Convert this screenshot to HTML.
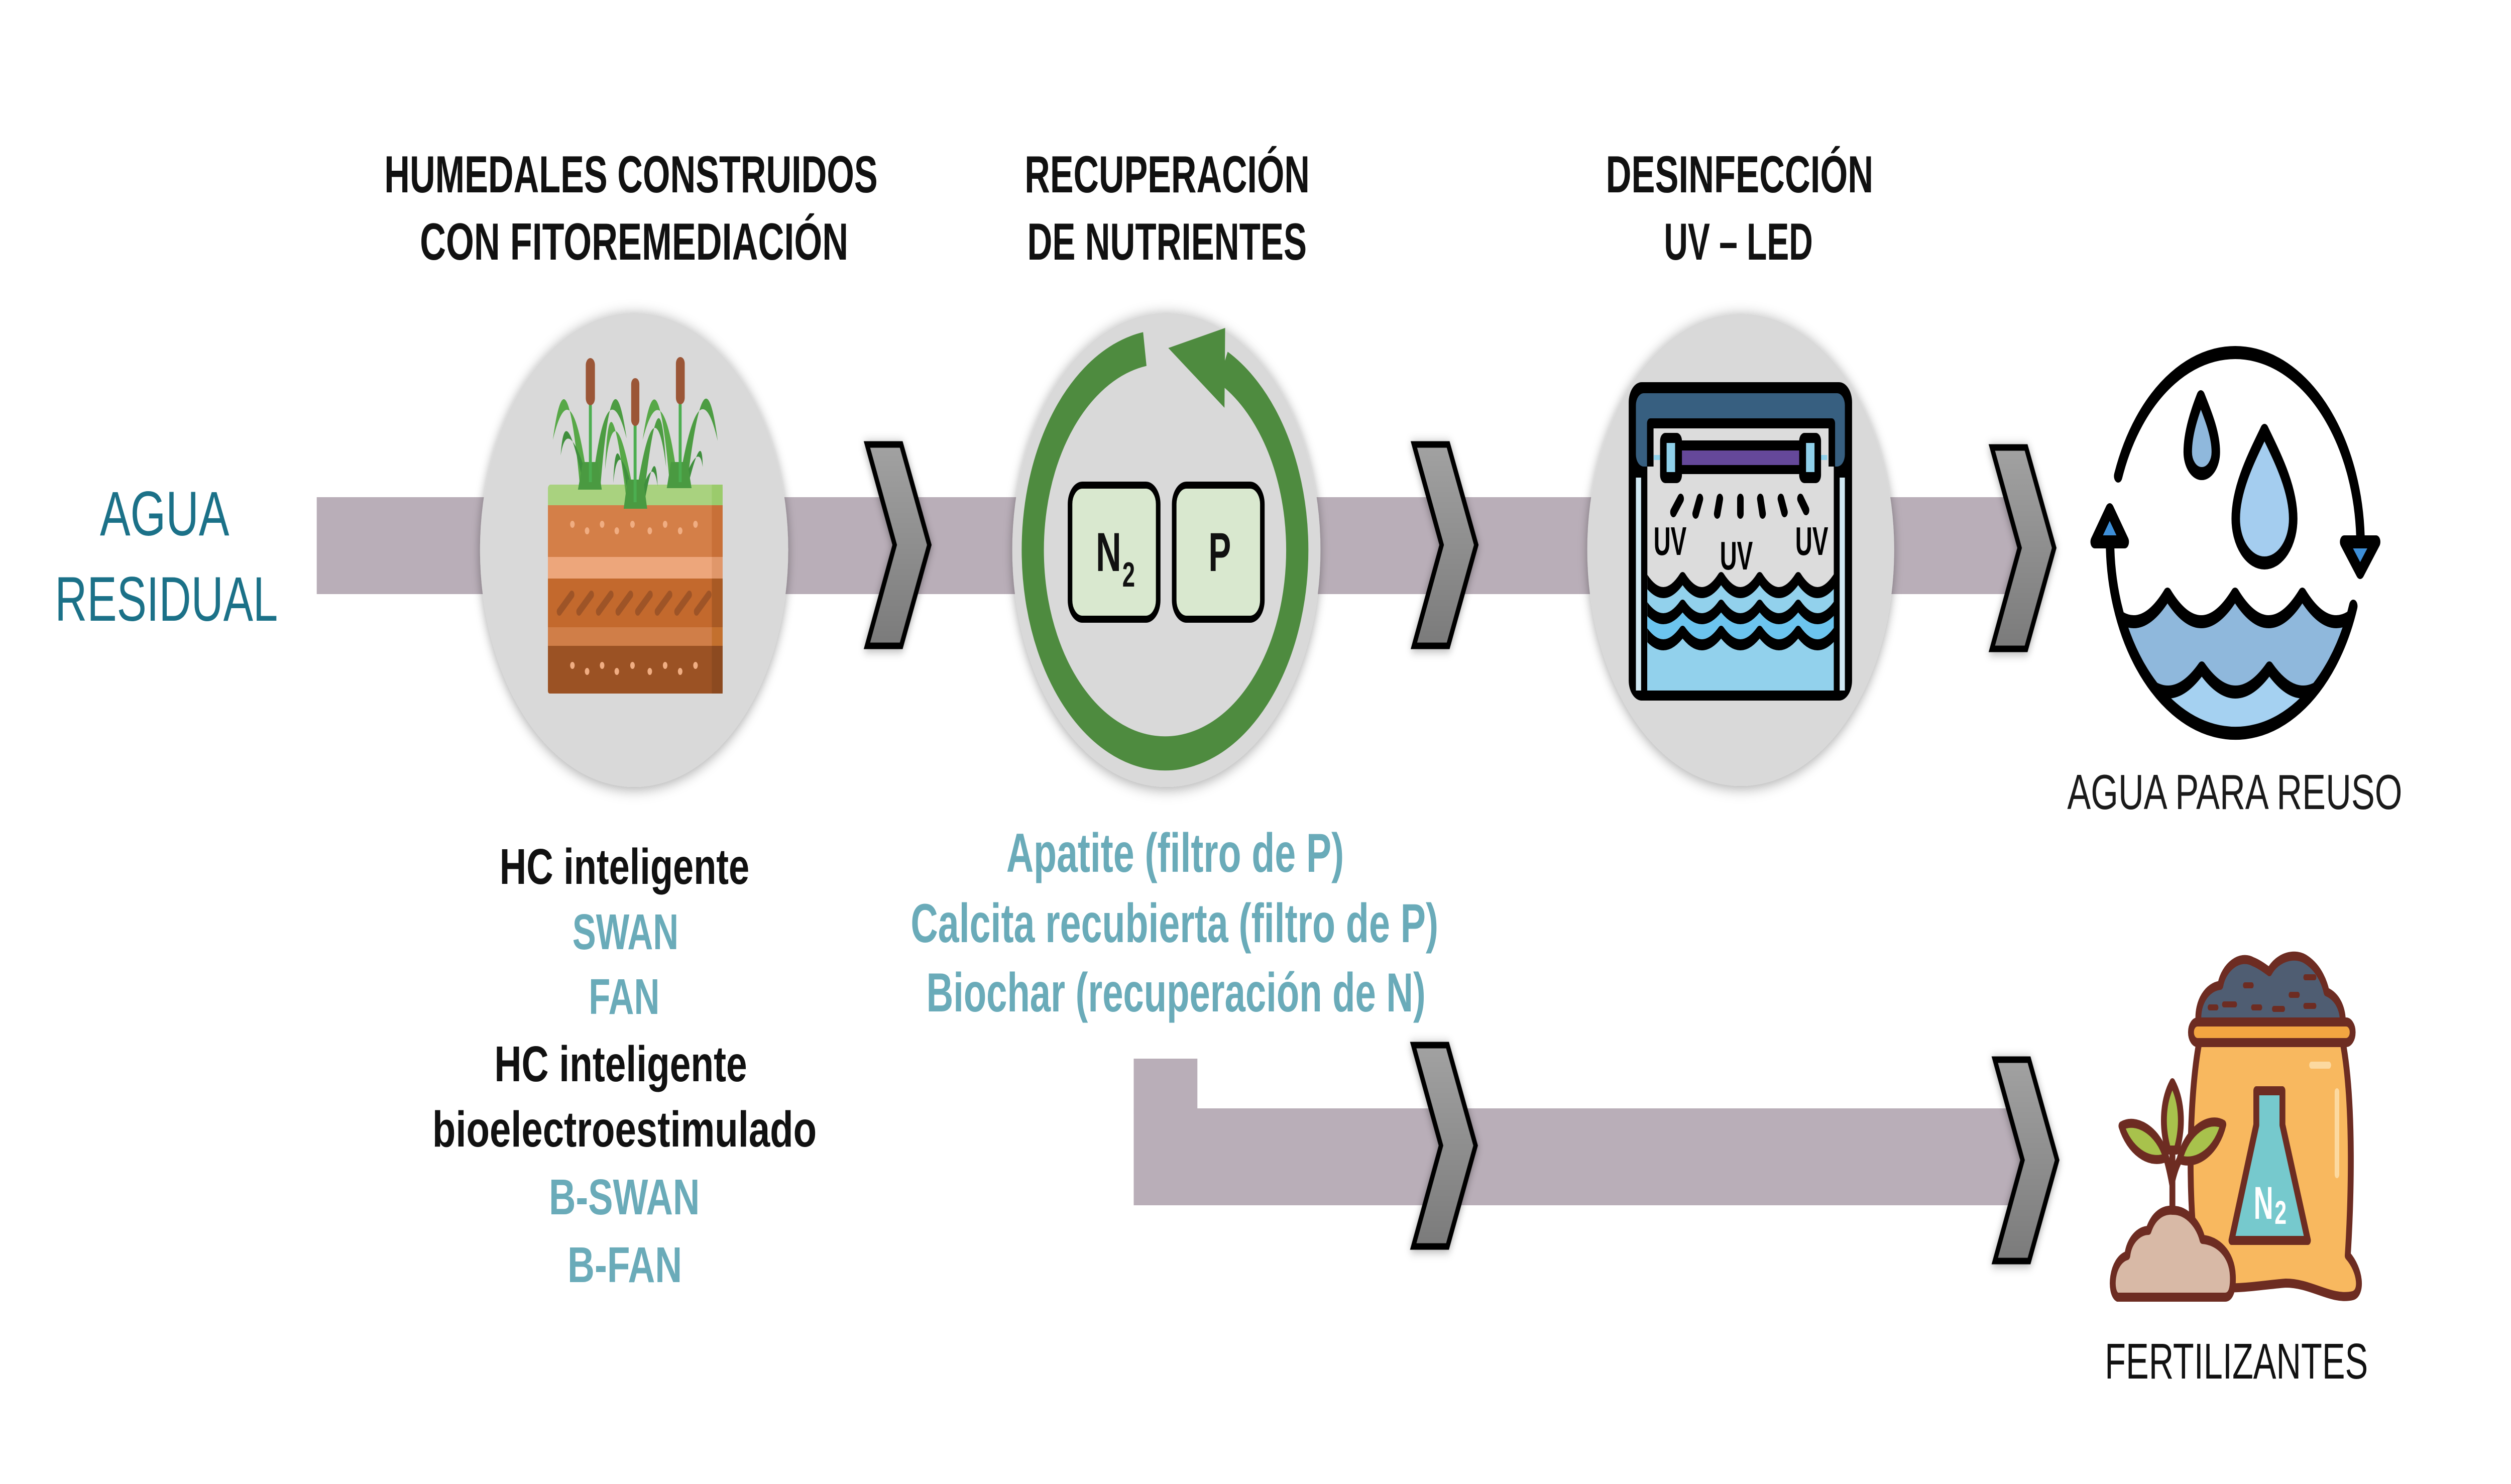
<!DOCTYPE html>
<html><head><meta charset="utf-8"><style>
html,body{margin:0;padding:0;background:#fff;width:100%;height:100%;overflow:hidden;}
svg{display:block;position:absolute;left:0;top:0;width:100%;height:100%;}
text{font-family:"Liberation Sans",sans-serif;}
</style></head><body>
<svg viewBox="0 0 7690 2955" preserveAspectRatio="none" xmlns="http://www.w3.org/2000/svg" overflow="hidden">
<defs>
<filter id="sh" x="-20%" y="-20%" width="140%" height="140%"><feDropShadow dx="0" dy="4" stdDeviation="14" flood-color="#000" flood-opacity="0.35"/></filter>
<filter id="shc" x="-30%" y="-20%" width="160%" height="140%"><feDropShadow dx="0" dy="3" stdDeviation="10" flood-color="#000" flood-opacity="0.35"/></filter>
<linearGradient id="cg" x1="0" y1="0" x2="0" y2="1"><stop offset="0" stop-color="#a2a2a2"/><stop offset="1" stop-color="#7b7b7b"/></linearGradient>
<clipPath id="uvclip"><rect x="5045" y="1090" width="571" height="285"/></clipPath>
<clipPath id="wclip"><circle cx="6846" cy="1076" r="384"/></clipPath>
</defs>
<rect width="7690" height="2955" fill="#fff"/>

<!-- Headings -->
<g font-weight="bold" font-size="104" fill="#111">
<text x="1177" y="383" textLength="1511" lengthAdjust="spacingAndGlyphs">HUMEDALES CONSTRUIDOS</text>
<text x="1286" y="517" textLength="1312" lengthAdjust="spacingAndGlyphs">CON FITOREMEDIACIÓN</text>
<text x="3138" y="383" textLength="873" lengthAdjust="spacingAndGlyphs">RECUPERACIÓN</text>
<text x="3146" y="517" textLength="856" lengthAdjust="spacingAndGlyphs">DE NUTRIENTES</text>
<text x="4918" y="383" textLength="819" lengthAdjust="spacingAndGlyphs">DESINFECCIÓN</text>
<text x="5096" y="517" textLength="456" lengthAdjust="spacingAndGlyphs">UV – LED</text>
</g>

<!-- AGUA RESIDUAL -->
<g font-size="125" fill="#1b7188">
<text x="306" y="1066" textLength="396" lengthAdjust="spacingAndGlyphs">AGUA</text>
<text x="168" y="1236" textLength="683" lengthAdjust="spacingAndGlyphs">RESIDUAL</text>
</g>

<!-- Bands -->
<rect x="970" y="990" width="5270" height="193" fill="#b9aeb8"/>
<rect x="3472" y="2108" width="195" height="110" fill="#b9aeb8"/>
<rect x="3472" y="2207" width="2730" height="193" fill="#b9aeb8"/>

<!-- Circles -->
<g fill="#d9d9d9" filter="url(#sh)">
<circle cx="1942" cy="1095" r="472"/>
<circle cx="3572" cy="1095" r="472"/>
<circle cx="5331" cy="1095" r="470"/>
</g>

<!-- Chevrons -->
<g fill="url(#cg)" stroke="#000" stroke-width="13" stroke-linejoin="miter" filter="url(#shc)">
<polygon transform="translate(2649,879)" points="6,6 111,6 197,206 111,407 6,407 91,206"/>
<polygon transform="translate(4324,879)" points="6,6 111,6 197,206 111,407 6,407 91,206"/>
<polygon transform="translate(6094,885)" points="6,6 111,6 197,206 111,407 6,407 91,206"/>
<polygon transform="translate(4322,2075)" points="6,6 111,6 197,206 111,407 6,407 91,206"/>
<polygon transform="translate(6103,2104)" points="6,6 111,6 197,206 111,407 6,407 91,206"/>
</g>

<!-- Wetland icon -->
<g>
<rect x="1678" y="965" width="535" height="50" rx="8" fill="#a9d27f"/>
<rect x="2180" y="965" width="33" height="41" fill="#9bcb6c"/>
<rect x="1678" y="1006" width="535" height="103" fill="#d47f48"/>
<rect x="1678" y="1109" width="535" height="43" fill="#eda67b"/>
<rect x="1678" y="1152" width="535" height="97" fill="#c3692d"/>
<rect x="1678" y="1249" width="535" height="37" fill="#d07e48"/>
<path d="M1678 1286 H2213 V1375 Q2213 1381 2207 1381 H1684 Q1678 1381 1678 1375 Z" fill="#9b5224"/>
<rect x="2180" y="1006" width="33" height="103" fill="#c87038"/>
<rect x="2180" y="1109" width="33" height="43" fill="#e0976a"/>
<rect x="2180" y="1152" width="33" height="97" fill="#a95a24"/>
<rect x="2180" y="1249" width="33" height="37" fill="#c3702e"/>
<rect x="2180" y="1286" width="33" height="95" fill="#8c4a20"/>
<g fill="#f0ad82">
<circle cx="1753" cy="1044" r="7"/><circle cx="1798" cy="1057" r="7"/><circle cx="1844" cy="1044" r="7"/><circle cx="1889" cy="1057" r="7"/><circle cx="1937" cy="1044" r="7"/><circle cx="1990" cy="1057" r="7"/><circle cx="2037" cy="1044" r="7"/><circle cx="2083" cy="1057" r="7"/><circle cx="2130" cy="1044" r="7"/>
<circle cx="1753" cy="1325" r="7"/><circle cx="1798" cy="1337" r="7"/><circle cx="1844" cy="1325" r="7"/><circle cx="1889" cy="1337" r="7"/><circle cx="1937" cy="1325" r="7"/><circle cx="1990" cy="1337" r="7"/><circle cx="2037" cy="1325" r="7"/><circle cx="2083" cy="1337" r="7"/><circle cx="2130" cy="1325" r="7"/>
</g>
<g stroke="#9e5427" stroke-width="16" stroke-linecap="round">
<line x1="1713" y1="1218" x2="1751" y2="1184"/><line x1="1773" y1="1218" x2="1811" y2="1184"/><line x1="1833" y1="1218" x2="1871" y2="1184"/><line x1="1893" y1="1218" x2="1931" y2="1184"/><line x1="1953" y1="1218" x2="1991" y2="1184"/><line x1="2013" y1="1218" x2="2051" y2="1184"/><line x1="2073" y1="1218" x2="2111" y2="1184"/><line x1="2133" y1="1218" x2="2171" y2="1184"/>
</g>
<path d="M1777 975 Q1735 674 1693 876 Q1752 718 1803 975 Z" fill="#57a847"/>
<path d="M1790 975 Q1730 783 1717 907 Q1740 815 1810 975 Z" fill="#3f8f3d"/>
<path d="M1838 975 Q1875 676 1919 873 Q1858 720 1812 975 Z" fill="#4c9c42"/>
<path d="M1770 975 L1843 975 L1830 920 L1785 920 Z" fill="#4a9a41"/>
<path d="M2052 972 Q2014 676 1968 876 Q2031 720 2078 972 Z" fill="#57a847"/>
<path d="M2103 972 Q2157 671 2198 878 Q2140 715 2077 972 Z" fill="#4c9c42"/>
<path d="M2105 972 Q2151 849 2152 930 Q2141 873 2085 972 Z" fill="#3f8f3d"/>
<path d="M2042 972 L2118 972 L2105 920 L2055 920 Z" fill="#4a9a41"/>
<path d="M1922 1013 Q1866 712 1853 935 Q1884 750 1948 1013 Z" fill="#57a847"/>
<path d="M1968 1013 Q2020 700 2040 930 Q2003 740 1942 1013 Z" fill="#4c9c42"/>
<path d="M1930 1013 Q1886 822 1878 962 Q1896 848 1950 1013 Z" fill="#3f8f3d"/>
<path d="M1970 1013 Q2008 870 2014 968 Q1998 893 1950 1013 Z" fill="#3f8f3d"/>
<path d="M1910 1013 L1982 1013 L1970 955 L1922 955 Z" fill="#4a9a41"/>
<g stroke="#4cae50" stroke-width="9">
<line x1="1808" y1="800" x2="1808" y2="960"/><line x1="1945" y1="845" x2="1945" y2="1000"/><line x1="2083" y1="800" x2="2083" y2="960"/>
</g>
<g fill="#9b5637">
<rect x="1794" y="713" width="28" height="94" rx="14"/><rect x="1933" y="753" width="25" height="95" rx="12"/><rect x="2070" y="711" width="27" height="94" rx="13"/>
</g>
</g>

<!-- Nutrients icon -->
<g>
<path d="M3506 695 A405 405 0 1 0 3745 731" fill="none" stroke="#4e8b3f" stroke-width="68"/>
<polygon points="3578,693 3752,653 3750,812" fill="#4e8b3f"/>
<rect x="3277" y="966" width="270" height="267" rx="38" fill="#d9e8cf" stroke="#000" stroke-width="14"/>
<rect x="3596" y="966" width="270" height="267" rx="38" fill="#d9e8cf" stroke="#000" stroke-width="14"/>
<g font-weight="bold" fill="#111">
<text x="3356" y="1137" font-size="110" textLength="78" lengthAdjust="spacingAndGlyphs">N</text>
<text x="3437" y="1168" font-size="70">2</text>
<text x="3701" y="1137" font-size="110" textLength="69" lengthAdjust="spacingAndGlyphs">P</text>
</g>
</g>

<!-- UV icon -->
<g>
<rect x="4988" y="761" width="684" height="634" rx="40" fill="#000"/>
<rect x="5010" y="783" width="640" height="146" rx="24" fill="#375f80"/>
<rect x="5010" y="951" width="16" height="424" fill="#cfe7f2"/>
<rect x="5634" y="951" width="16" height="424" fill="#cfe7f2"/>
<rect x="5044" y="833" width="576" height="110" rx="10" fill="#000"/>
<rect x="5064" y="853" width="536" height="90" fill="#dcdcdc"/>
<rect x="5045" y="929" width="571" height="446" fill="#dcdcdc"/>
<g clip-path="url(#uvclip)">
<path d="M5035 1150 Q5094 1210 5153 1150 Q5212 1210 5271 1150 Q5330 1210 5389 1150 Q5448 1210 5507 1150 Q5566 1210 5625 1150 L5625 1380 L5035 1380 Z" fill="#92d1ec"/>
<path d="M5035 1205 Q5094 1259 5153 1205 Q5212 1259 5271 1205 Q5330 1259 5389 1205 Q5448 1259 5507 1205 Q5566 1259 5625 1205 L5625 1380 L5035 1380 Z" fill="#6cc4ee"/>
<path d="M5035 1257 Q5094 1311 5153 1257 Q5212 1311 5271 1257 Q5330 1311 5389 1257 Q5448 1311 5507 1257 Q5566 1311 5625 1257 L5625 1380 L5035 1380 Z" fill="#92d1ec"/>
<g fill="none" stroke="#000" stroke-width="22" stroke-linejoin="round">
<path d="M5035 1150 Q5094 1210 5153 1150 Q5212 1210 5271 1150 Q5330 1210 5389 1150 Q5448 1210 5507 1150 Q5566 1210 5625 1150"/>
<path d="M5035 1205 Q5094 1259 5153 1205 Q5212 1259 5271 1205 Q5330 1259 5389 1205 Q5448 1259 5507 1205 Q5566 1259 5625 1205"/>
<path d="M5035 1257 Q5094 1311 5153 1257 Q5212 1311 5271 1257 Q5330 1311 5389 1257 Q5448 1311 5507 1257 Q5566 1311 5625 1257"/>
</g>
</g>
<rect x="5065" y="906" width="20" height="10" fill="#8fd0ea"/>
<rect x="5576" y="906" width="20" height="10" fill="#8fd0ea"/>
<rect x="5084" y="862" width="67" height="100" rx="16" fill="#000"/>
<rect x="5510" y="862" width="67" height="100" rx="16" fill="#000"/>
<rect x="5130" y="877" width="401" height="67" fill="#000"/>
<rect x="5151" y="897" width="359" height="29" fill="#65489a"/>
<rect x="5104" y="882" width="26" height="58" fill="#8fd0ea"/>
<rect x="5531" y="882" width="26" height="58" fill="#8fd0ea"/>
<g stroke="#000" stroke-width="20" stroke-linecap="round">
<line x1="5125" y1="1020" x2="5147" y2="993"/><line x1="5193" y1="1023" x2="5206" y2="993"/><line x1="5259" y1="1023" x2="5267" y2="993"/><line x1="5330" y1="1023" x2="5330" y2="993"/><line x1="5398" y1="1023" x2="5391" y2="993"/><line x1="5465" y1="1020" x2="5454" y2="993"/><line x1="5531" y1="1016" x2="5514" y2="993"/>
</g>
<g font-weight="bold" font-size="80" fill="#000">
<text x="5064" y="1105" textLength="101" lengthAdjust="spacingAndGlyphs">UV</text>
<text x="5267" y="1134" textLength="101" lengthAdjust="spacingAndGlyphs">UV</text>
<text x="5498" y="1105" textLength="101" lengthAdjust="spacingAndGlyphs">UV</text>
</g>
</g>

<!-- Water reuse icon -->
<g>
<g clip-path="url(#wclip)">
<path d="M6431 1183 Q6535 1293 6638 1183 Q6741 1293 6845 1183 Q6948 1293 7051 1183 Q7155 1293 7258 1183 L7258 1500 L6431 1500 Z" fill="#8fb8dc"/>
<path d="M6329 1330 Q6432 1426 6536 1330 Q6639 1426 6743 1330 Q6846 1426 6950 1330 Q7053 1426 7157 1330 Q7260 1426 7364 1330 L7364 1500 L6329 1500 Z" fill="#a5d1f1"/>
<g fill="none" stroke="#000" stroke-width="26" stroke-linejoin="round">
<path d="M6431 1183 Q6535 1293 6638 1183 Q6741 1293 6845 1183 Q6948 1293 7051 1183 Q7155 1293 7258 1183"/>
<path d="M6329 1330 Q6432 1426 6536 1330 Q6639 1426 6743 1330 Q6846 1426 6950 1330 Q7053 1426 7157 1330 Q7260 1426 7364 1330"/>
</g>
</g>
<g fill="none" stroke="#000" stroke-width="26" stroke-linecap="round">
<path d="M6487 948 A384 384 0 0 1 7229 1070"/>
<path d="M6462 1078 A384 384 0 0 0 7207 1207"/>
</g>
<polygon points="7179,1079 7277,1079 7228,1140" fill="#3e8fd8" stroke="#000" stroke-width="26" stroke-linejoin="round"/>
<polygon points="6415,1079 6507,1079 6461,1015" fill="#3e8fd8" stroke="#000" stroke-width="26" stroke-linejoin="round"/>
<path d="M6740 790 C6722 820 6700 862 6700 900 A43 43 0 0 0 6786 900 C6786 862 6758 820 6740 790 Z" fill="#8fb8dc" stroke="#000" stroke-width="26" stroke-linejoin="round"/>
<path d="M6935 857 C6900 905 6847 970 6847 1033 A88 88 0 0 0 7023 1033 C7023 970 6970 905 6935 857 Z" fill="#a4cdef" stroke="#000" stroke-width="26" stroke-linejoin="round"/>
</g>
<text x="6331" y="1611" font-size="98" fill="#1a1a1a" textLength="1026" lengthAdjust="spacingAndGlyphs">AGUA PARA REUSO</text>

<!-- Fertilizer icon -->
<g stroke="#6d2c22" stroke-width="18" stroke-linejoin="round" stroke-linecap="round">
<path d="M6733 2035 C6728 1995 6760 1965 6800 1962 C6810 1925 6860 1900 6900 1915 C6920 1920 6940 1930 6950 1935 C6975 1905 7030 1895 7065 1912 C7105 1930 7120 1960 7125 1975 C7160 1985 7175 2010 7175 2035 Z" fill="#4f5d72"/>
<g stroke-width="12">
<line x1="6875" y1="1962" x2="6896" y2="1962"/><line x1="6811" y1="2000" x2="6845" y2="2000"/><line x1="6900" y1="2006" x2="6922" y2="2006"/><line x1="6964" y1="2009" x2="6992" y2="2009"/><line x1="7015" y1="1981" x2="7037" y2="1981"/><line x1="7060" y1="1946" x2="7088" y2="1946"/><line x1="7060" y1="2003" x2="7088" y2="2003"/><line x1="6767" y1="2006" x2="6788" y2="2006"/>
</g>
<path d="M6735 2076 C6700 2200 6700 2430 6735 2540 C6760 2580 6900 2560 7000 2555 C7080 2555 7140 2590 7205 2580 C7235 2575 7230 2530 7190 2500 C7200 2400 7210 2200 7175 2076 Z" fill="#f8b85f"/>
<rect x="6710" y="2035" width="495" height="41" rx="20" fill="#f2a541"/>
<line x1="7079" y1="2121" x2="7132" y2="2121" stroke="#fcd9a0" stroke-width="14"/>
<line x1="7157" y1="2174" x2="7157" y2="2339" stroke="#fcd9a0" stroke-width="14"/>
<path d="M6910 2172 L6990 2172 L6990 2240 L7068 2470 L6834 2470 L6910 2240 Z" fill="#76c9cd"/>
<path d="M6485 2583 C6460 2575 6465 2510 6515 2500 C6520 2470 6550 2450 6580 2450 C6595 2420 6625 2408 6655 2410 C6700 2410 6735 2440 6745 2468 C6790 2470 6835 2495 6838 2540 C6840 2570 6830 2583 6815 2583 Z" fill="#d8b9a6"/>
<path d="M6653 2410 L6653 2290 M6653 2360 Q6645 2330 6634 2305 M6653 2350 Q6662 2325 6675 2309" fill="none"/>
<path d="M6653 2156 C6625 2190 6618 2240 6640 2290 L6666 2290 C6688 2240 6681 2190 6653 2156 Z" fill="#a8c24c"/>
<path d="M6497 2242 C6540 2225 6610 2250 6634 2305 C6580 2320 6520 2290 6497 2242 Z" fill="#a8c24c"/>
<path d="M6809 2239 C6766 2222 6698 2250 6675 2309 C6730 2322 6790 2290 6809 2239 Z" fill="#a8c24c"/>
</g>
<g font-weight="bold" fill="#fff">
<text x="6902" y="2427" font-size="92" textLength="60" lengthAdjust="spacingAndGlyphs">N</text>
<text x="6966" y="2437" font-size="66">2</text>
</g>
<text x="6446" y="2745" font-size="100" fill="#111" textLength="806" lengthAdjust="spacingAndGlyphs">FERTILIZANTES</text>

<!-- Left list -->
<g font-weight="bold" font-size="100">
<text x="1530" y="1760" fill="#111" textLength="765" lengthAdjust="spacingAndGlyphs">HC inteligente</text>
<text x="1753" y="1890" fill="#6aabb9" textLength="325" lengthAdjust="spacingAndGlyphs">SWAN</text>
<text x="1803" y="2019" fill="#6aabb9" textLength="217" lengthAdjust="spacingAndGlyphs">FAN</text>
<text x="1514" y="2153" fill="#111" textLength="774" lengthAdjust="spacingAndGlyphs">HC inteligente</text>
<text x="1324" y="2283" fill="#111" textLength="1177" lengthAdjust="spacingAndGlyphs">bioelectroestimulado</text>
<text x="1681" y="2418" fill="#6aabb9" textLength="462" lengthAdjust="spacingAndGlyphs">B-SWAN</text>
<text x="1738" y="2553" fill="#6aabb9" textLength="351" lengthAdjust="spacingAndGlyphs">B-FAN</text>
</g>

<!-- Right list -->
<g font-weight="bold" font-size="110" fill="#6aabb9">
<text x="3082" y="1736" textLength="1034" lengthAdjust="spacingAndGlyphs">Apatite (filtro de P)</text>
<text x="2789" y="1876" textLength="1616" lengthAdjust="spacingAndGlyphs">Calcita recubierta (filtro de P)</text>
<text x="2837" y="2014" textLength="1529" lengthAdjust="spacingAndGlyphs">Biochar (recuperación de N)</text>
</g>
</svg>
</body></html>
